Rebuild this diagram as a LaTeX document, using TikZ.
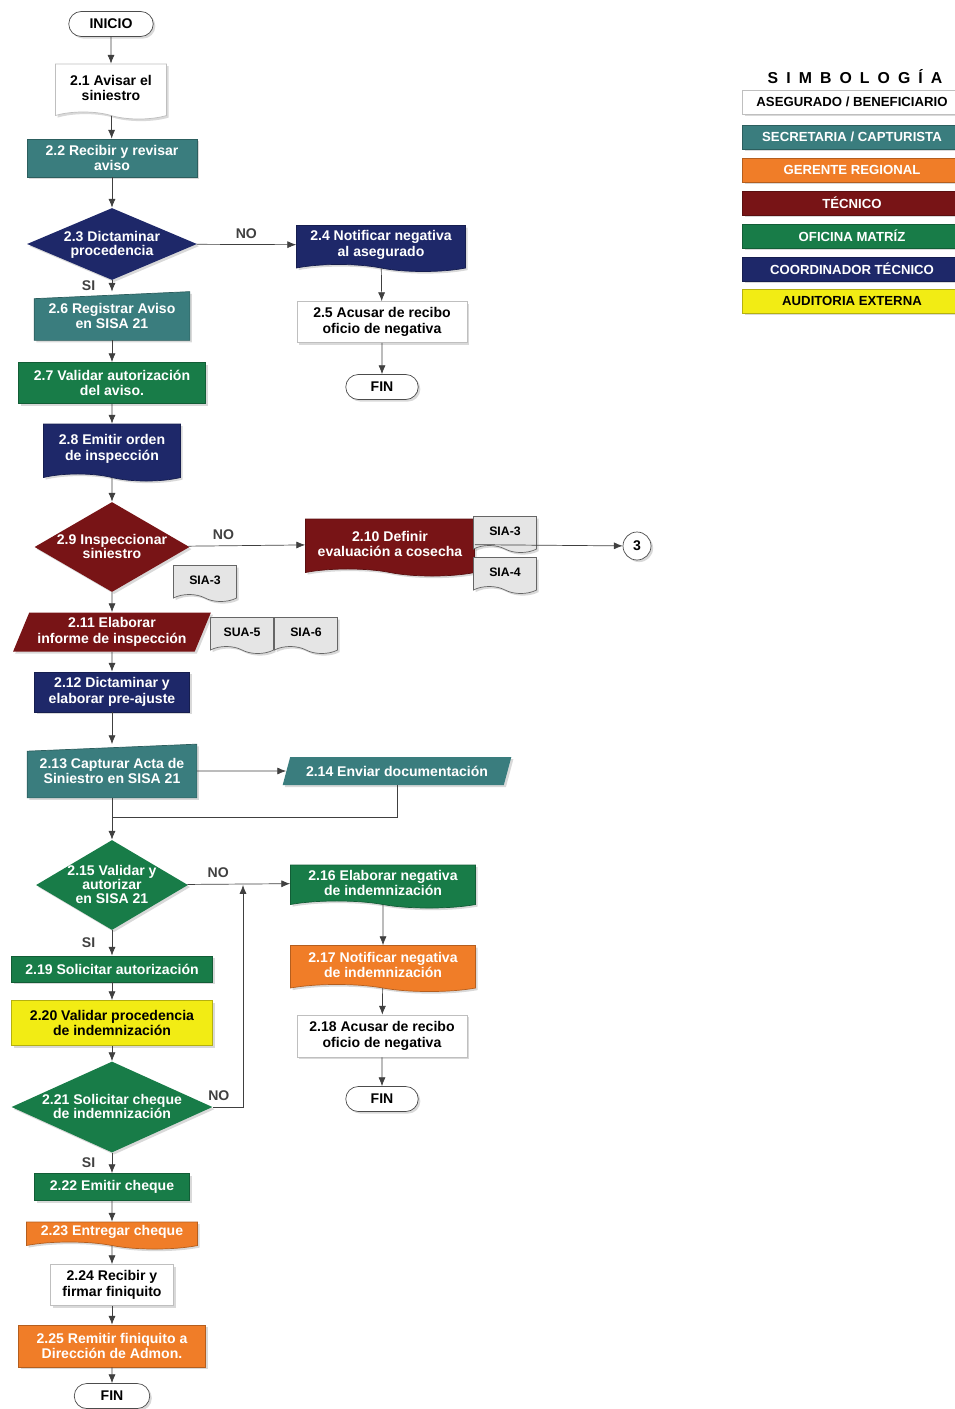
\documentclass[tikz,border=0pt]{standalone}
\usepackage{fontspec}
\setmainfont{Liberation Sans}
\usetikzlibrary{shadows}
\usetikzlibrary{positioning}
\usetikzlibrary{arrows,arrows.meta,shapes}
\usetikzlibrary{backgrounds}

\definecolor{secre}{RGB}{58,125,126}
\definecolor{gerente}{RGB}{240,125,40}
\definecolor{tecnico}{RGB}{120,20,22}
\definecolor{matriz}{RGB}{24,124,72}
\definecolor{coord}{RGB}{30,40,105}
\definecolor{audit}{RGB}{242,236,20}

\newcommand{\dtxt}[1]{\smash{\makebox[0pt]{\raisebox{-2.6pt}{\def\arraystretch{0.85}\begin{tabular}{@{}c@{}}#1\end{tabular}}}}}

\tikzstyle{boxfont}=[font=\bfseries\fontsize{8}{8.8}\selectfont]
\tikzstyle{shadowed}=[drop shadow={shadow xshift=1.2pt,shadow yshift=-1.2pt,opacity=0.3}]
\tikzstyle{procbox}=[rectangle,boxfont,align=center,inner sep=1pt,shadowed]
\tikzstyle{docbox}=[tape,tape bend top=none,tape bend bottom=out and in,tape bend height=4pt,boxfont,align=center,inner sep=1pt,shadowed]
\tikzstyle{siabox}=[tape,tape bend top=none,tape bend bottom=out and in,tape bend height=4pt,fill=black!10,draw=black!60,font=\bfseries\fontsize{7}{8}\selectfont,inner sep=1pt,shadowed]
\tikzstyle{manbox}=[rectangle,boxfont,align=center,inner sep=1pt,text=white]
\tikzstyle{parbox}=[trapezium,trapezium left angle=65,trapezium right angle=115,trapezium stretches=true,boxfont,align=center,inner sep=1pt,text=white,shadowed]
\tikzstyle{decbox}=[diamond,boxfont,inner sep=0pt,text=white,shadowed]
\tikzstyle{termbox}=[rounded rectangle,draw=black!70,fill=white,boxfont,inner sep=1pt,shadowed]
\tikzstyle{legbox}=[rectangle,font=\bfseries\fontsize{7.5}{8}\selectfont,inner sep=0pt,shadowed]
\tikzstyle{edge} = [draw,->,>={Latex[length=5pt,width=4pt]},black!75]
\tikzstyle{plainedge} = [draw,black!75]
\tikzstyle{lab} = [font=\bfseries\fontsize{8}{9}\selectfont]

\begin{document}
\begin{tikzpicture}[x=0.02cm,y=-0.02cm]

    \def\u{0.02cm};
    \useasboundingbox (0,0) rectangle (954,1409);

% Terminals
    \foreach \pos/\name/\w/\label in {{(111,24)/inicio/88/INICIO}, {(382,387)/fin1/76/FIN}, {(382,1099)/fin2/76/FIN}, {(112,1396)/fin3/79/FIN}}
        \node[termbox,minimum width=\w*\u,minimum height=25*\u] (\name) at \pos {\label};

% Process boxes
    \foreach \pos/\name/\col/\tc/\w/\h/\label in {
        {(112,158)/n22/secre/white/170/38/2.2 Recibir y revisar\\aviso},
        {(382,322)/n25/white/black/170/41/2.5 Acusar de recibo\\oficio de negativa},
        {(112,383)/n27/matriz/white/187/41/2.7 Validar autorización\\del aviso.},
        {(112,692)/n212/coord/white/155/40/2.12 Dictaminar y\\elaborar pre-ajuste},
        {(382,1036)/n218/white/black/170/42/2.18 Acusar de recibo\\oficio de negativa},
        {(112,969)/n219/matriz/white/201/26/2.19 Solicitar autorización},
        {(112,1023)/n220/audit/black/201/45/2.20 Validar procedencia\\de indemnización},
        {(112,1187)/n222/matriz/white/155/27/2.22 Emitir cheque},
        {(112,1285)/n224/white/black/123/41/2.24 Recibir y\\firmar finiquito},
        {(112,1346)/n225/gerente/white/187/42/2.25 Remitir finiquito a\\Dirección de Admon.}}
        \node[procbox,fill=\col,draw=\col!75!black,text=\tc,minimum width=\w*\u,minimum height=\h*\u] (\name) at \pos {\label};

% Documents
    \foreach \pos/\name/\col/\tc/\w/\h/\label in {
        {(111,88)/n21/white/black/111/55/2.1 Avisar el\\siniestro},
        {(381,245)/n24/coord/white/169/46/2.4 Notificar negativa\\al asegurado},
        {(112,449)/n28/coord/white/137/57/2.8 Emitir orden\\de inspección},
        {(390,544)/n210/tecnico/white/169/57/2.10 Definir\\evaluación a cosecha},
        {(383,883)/n216/matriz/white/185/43/2.16 Elaborar negativa\\de indemnización},
        {(383,965)/n217/gerente/white/185/46/2.17 Notificar negativa\\de indemnización},
        {(112,1232)/n223/gerente/white/171/27/2.23 Entregar cheque}}
        \node[docbox,fill=\col,draw=\col!75!black,text=\tc,minimum width=\w*\u,minimum height=\h*\u] (\name) at \pos {\label};

% Formats
    \foreach \pos/\name/\label in {{(505,531)/s1/SIA-3}, {(505,572)/s2/SIA-4}, {(205,580)/s3/SIA-3}, {(242,632)/s4/SUA-5}, {(306,632)/s5/SIA-6}}
        \node[siabox,minimum width=63*\u,minimum height=36*\u] (\name) at \pos {\label};

% Manual input
    \foreach \pos/\name/\w/\h/\label in {{(112,316)/n26/155/48/2.6 Registrar Aviso\\en SISA 21}, {(112,771)/n213/169/53/2.13 Capturar Acta de\\Siniestro en SISA 21}}
        \node[manbox,minimum width=\w*\u,minimum height=\h*\u] (\name) at \pos {\label};
    \begin{scope}[on background layer]
    \foreach \name in {n26, n213}
        \path[fill=secre,draw=secre!75!black,shadowed] (\name.south west) -- (\name.south east) -- (\name.north east) -- ([yshift=-4pt]\name.north west) -- cycle;
    \end{scope}

% Send
    \node[parbox,fill=tecnico,minimum width=198*\u,minimum height=39*\u] (n211) at (112,632) {2.11 Elaborar\\informe de inspección};
    \node[parbox,fill=secre,minimum width=229*\u,minimum height=28*\u] (n214) at (397,771) {2.14 Enviar documentación};

% Decisions
    \foreach \pos/\name/\col/\w/\h/\label in {
        {(112,244)/d23/coord/170/72/2.3 Dictaminar\\procedencia},
        {(112,547)/d29/tecnico/155/90/2.9 Inspeccionar\\siniestro},
        {(112,885)/d215/matriz/152/90/2.15 Validar y\\autorizar\\en SISA 21},
        {(112,1107)/d221/matriz/201/91/2.21 Solicitar cheque\\de indemnización}}
        \node[decbox,fill=\col,minimum width=\w*\u,minimum height=\h*\u] (\name) at \pos {\dtxt{\label}};

% Connector
    \node[circle,draw=black!70,fill=white,boxfont,minimum size=28*\u,inner sep=0pt,shadowed] (c3) at (637,546) {3};

    \coordinate (j1) at (112,817);
    \coordinate (j2) at (243,885);

% Edges
    \foreach \source/\dest in {inicio/n21, n21/n22, n22/d23, n26/n27, n27/n28, n28/d29, d29/n211, n211/n212, n212/n213, n213/d215, n219/n220, n220/d221, n222/n223, n223/n224, n224/n225, n225/fin3, n24/n25, n25/fin1, n216/n217, n217/n218, n218/fin2, n210/c3, n213/n214}
        \path[edge] (\source) -- (\dest);

    \foreach \source/\dest in {d23/n26, d215/n219, d221/n222}
        \path[edge] (\source) -- node[lab,left=6pt] {SI} (\dest);

    \path[edge] (d23) -- node[lab,above] {NO} (n24);
    \path[edge] (d29) -- node[lab,above,pos=0.3] {NO} (n210);
    \path[edge] (d215) -- node[lab,above,pos=0.3] {NO} (n216);
    \path[edge] (d221.east) -| node[lab,above,pos=0.1] {NO} (j2);
    \path[plainedge] (n214.south) |- (j1);

% Legend
    \node[font=\bfseries\fontsize{9}{10}\selectfont] (simb) at (855,77) {S\kern4.6pt I\kern4.6pt M\kern4.6pt B\kern4.6pt O\kern4.6pt L\kern4.6pt O\kern4.6pt G\kern4.6pt Í\kern4.6pt A};
    \foreach \y/\name/\col/\tc/\label in {
        {102/l1/white/black/ASEGURADO {/} BENEFICIARIO},
        {137/l2/secre/white/SECRETARIA {/} CAPTURISTA},
        {170/l3/gerente/white/GERENTE REGIONAL},
        {203/l4/tecnico/white/TÉCNICO},
        {236/l5/matriz/white/OFICINA MATRÍZ},
        {269/l6/coord/white/COORDINADOR TÉCNICO},
        {301/l7/audit/black/AUDITORIA EXTERNA}}
        \node[legbox,fill=\col,draw=\col!75!black,text=\tc,minimum width=219*\u,minimum height=24*\u] (\name) at (852,\y) {\label};

\end{tikzpicture}
\end{document}
